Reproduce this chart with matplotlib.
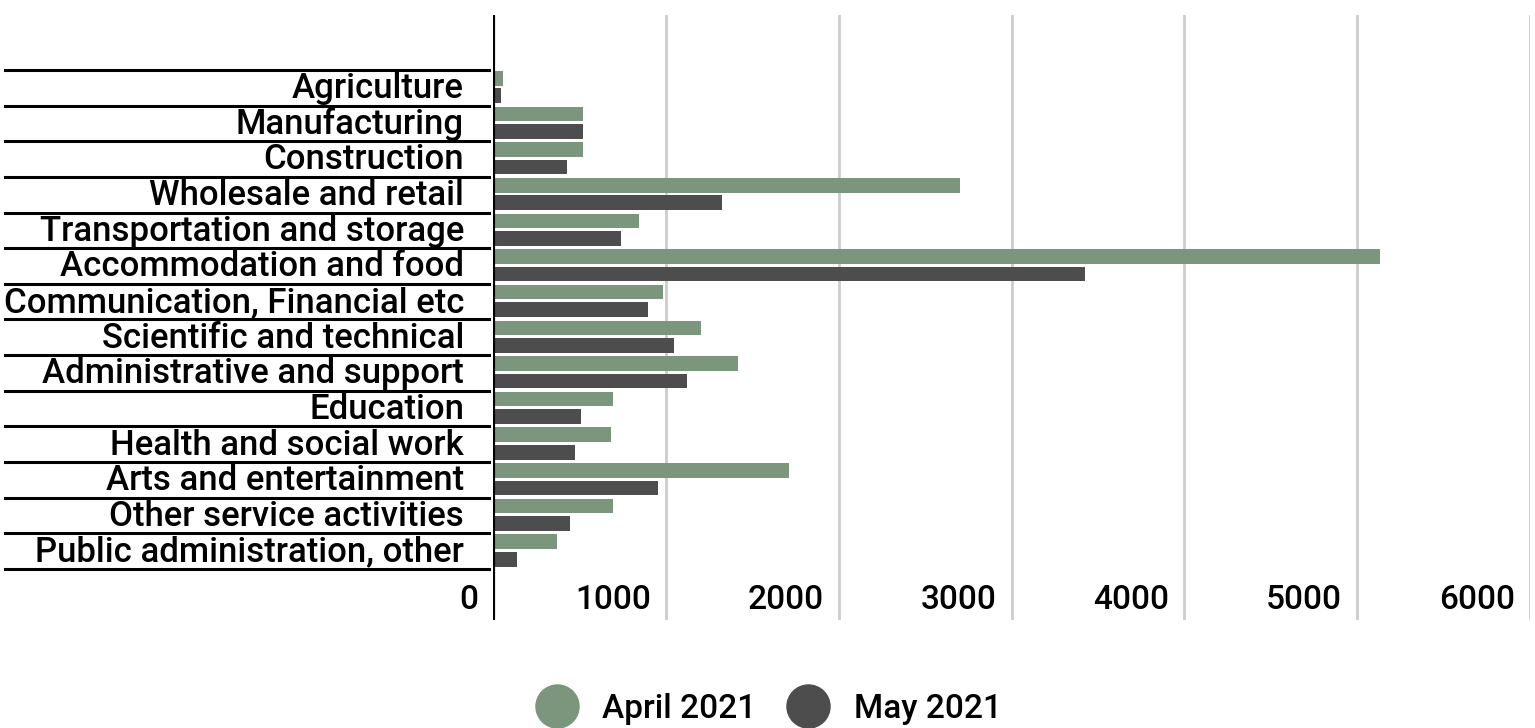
import numpy as np
from matplotlib import pyplot as plt
from matplotlib import transforms
from matplotlib.lines import Line2D

plt.rcParams["font.family"] = ["Roboto", "DejaVu Sans"]

sectors = ["Agriculture", "Manufacturing", "Construction", "Wholesale and retail",
           "Transportation and storage", "Accommodation and food",
           "Communication, Financial etc", "Scientific and technical",
           "Administrative and support", "Education", "Health and social work",
           "Arts and entertainment", "Other service activities",
           "Public administration, other"]
april_2021 = [60, 520, 520, 2700, 845, 5130, 985, 1205, 1415, 695, 680, 1710, 695, 370]
may_2021 = [45, 520, 430, 1325, 740, 3425, 895, 1050, 1120, 510, 475, 955, 445, 140]
xticks = [0, 1000, 2000, 3000, 4000, 5000, 6000]

c_april = "#7b967d"
c_may = "#4d4d4d"
fs = 24

fig = plt.figure(figsize=(15.35, 7.28), dpi=100)
ax = fig.add_axes([493/1535, 1-620/728, (1530-493)/1535, (620-15)/728])

n = len(sectors)
y = np.arange(n)
h = 0.41
ax.barh(y + 0.03, april_2021, height=h, align="edge", color=c_april, zorder=3)
ax.barh(y + 0.52, may_2021, height=h, align="edge", color=c_may, zorder=3)

ax.set_xlim(0, 6000)
ax.set_ylim(n + 1.43, -1.54)
for s in ax.spines.values():
    s.set_visible(False)
ax.set_xticks([])
ax.set_yticks([])

for t in xticks[1:]:
    ax.axvline(t, color="#cccccc", lw=2, zorder=1)
ax.axvline(0, color="black", lw=3, zorder=4)

# separator lines left of the axis
blend = transforms.blended_transform_factory(fig.transFigure, ax.transData)
for k in range(n + 1):
    ax.add_line(Line2D([5/1535, 489/1535], [k, k], transform=blend,
                       color="black", lw=2.2, clip_on=False))

lab_tr = transforms.offset_copy(ax.transData, fig=fig, x=-29, y=0, units="dots")
for i, s in enumerate(sectors):
    ax.text(0, i + 1 - 0.21, s, transform=lab_tr, ha="right", va="baseline",
            fontsize=25, fontweight="medium", color="black")

tick_tr = transforms.blended_transform_factory(ax.transData, fig.transFigure)
tick_tr = transforms.offset_copy(tick_tr, fig=fig, x=-15, y=0, units="dots")
for t in xticks:
    ax.text(t, 1-600/728, str(t), transform=tick_tr, ha="right", va="center",
            fontsize=fs, fontweight="medium", color="black")

handles = [Line2D([], [], ls="none", marker="o", ms=31, color=c_april),
           Line2D([], [], ls="none", marker="o", ms=31, color=c_may)]
fig.legend(handles, ["April 2021", "May 2021"], loc="center",
           bbox_to_anchor=(0.5005, 1-709/728), ncol=2, frameon=False,
           prop={"size": fs, "weight": "medium"}, handletextpad=0.72,
           columnspacing=0.9, handlelength=1.3, borderpad=0)

fig.savefig("out.png", dpi=100)
